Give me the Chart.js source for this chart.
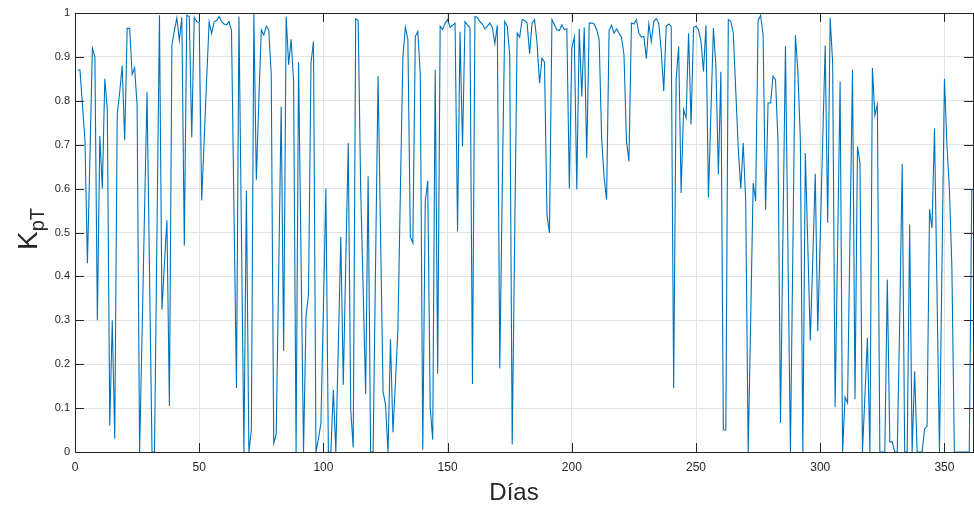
<!DOCTYPE html>
<html>
<head>
<meta charset="utf-8">
<script src="https://cdn.jsdelivr.net/npm/chart.js@4"></script>
<style>
  body { margin: 0; background: #fff; }
  #wrap { width: 974px; height: 505px; }
</style>
</head>
<body>
<div id="wrap"><canvas id="chart" width="974" height="505"></canvas></div>
<script>
// --- Data ---
// KpT per day, days 1..361
const kptValues = [
  0.87, 0.87, 0.79, 0.71, 0.43, 0.67, 0.92, 0.90, 0.30, 0.72,
  0.60, 0.85, 0.78, 0.06, 0.30, 0.03, 0.77, 0.82, 0.88, 0.71,
  0.965, 0.965, 0.86, 0.875, 0.79, 0, 0.27, 0.55, 0.82, 0.41,
  0, 0, 0.5, 0.995, 0.324, 0.43, 0.528, 0.105, 0.926, 0.96,
  0.989, 0.938, 0.99, 0.47, 0.995, 0.992, 0.717, 0.99, 0.981, 0.977,
  0.573, 0.71, 0.85, 0.98, 0.953, 0.98, 0.983, 0.992, 0.98, 0.975,
  0.973, 0.98, 0.96, 0.55, 0.146, 0.992, 0.5, 0, 0.595, 0,
  0.05, 0.998, 0.62, 0.8, 0.962, 0.95, 0.97, 0.962, 0.86, 0.02,
  0.04, 0.41, 0.787, 0.23, 0.992, 0.882, 0.94, 0.844, 0, 0.888,
  0.44, 0, 0.31, 0.36, 0.886, 0.935, 0, 0.03, 0.066, 0.33,
  0.60, 0, 0, 0.142, 0, 0.24, 0.49, 0.153, 0.43, 0.704,
  0.096, 0.01, 0.987, 0.983, 0.6, 0.37, 0.132, 0.628, 0, 0,
  0.43, 0.856, 0.5, 0.138, 0.108, 0, 0.257, 0.045, 0.16, 0.28,
  0.6, 0.90, 0.968, 0.94, 0.49, 0.476, 0.947, 0.958, 0.86, 0.005,
  0.57, 0.618, 0.10, 0.028, 0.871, 0.178, 0.97, 0.962, 0.977, 0.985,
  0.967, 0.972, 0.977, 0.503, 0.957, 0.696, 0.98, 0.973, 0.966, 0.155,
  0.992, 0.99, 0.98, 0.975, 0.964, 0.97, 0.977, 0.967, 0.93, 0.972,
  0.19, 0.6, 0.981, 0.97, 0.905, 0.017, 0.49, 0.954, 0.945, 0.985,
  0.983, 0.977, 0.907, 0.977, 0.985, 0.932, 0.84, 0.897, 0.888, 0.54,
  0.499, 0.985, 0.973, 0.962, 0.96, 0.973, 0.962, 0.964, 0.60, 0.92,
  0.945, 0.598, 0.964, 0.81, 0.967, 0.67, 0.977, 0.977, 0.975, 0.962,
  0.94, 0.715, 0.624, 0.575, 0.96, 0.972, 0.954, 0.964, 0.954, 0.945,
  0.905, 0.708, 0.662, 0.977, 0.975, 0.985, 0.954, 0.945, 0.947, 0.896,
  0.975, 0.935, 0.981, 0.987, 0.977, 0.913, 0.822, 0.97, 0.975, 0.97,
  0.146, 0.848, 0.924, 0.59, 0.78, 0.761, 0.954, 0.746, 0.967, 0.97,
  0.962, 0.935, 0.867, 0.972, 0.58, 0.775, 0.966, 0.879, 0.632, 0.866,
  0.05, 0.05, 0.985, 0.981, 0.954, 0.822, 0.692, 0.60, 0.704, 0.571,
  0, 0.3, 0.613, 0.572, 0.983, 0.995, 0.95, 0.552, 0.795, 0.795,
  0.856, 0.848, 0.708, 0.066, 0.5, 0.924, 0.46, 0, 0.47, 0.949,
  0.867, 0.711, 0, 0.681, 0.47, 0.254, 0.44, 0.634, 0.275, 0.49,
  0.71, 0.926, 0.522, 0.989, 0.886, 0.102, 0.47, 0.844, 0, 0.125,
  0.112, 0.5, 0.871, 0.12, 0.696, 0.658, 0, 0.13, 0.26, 0,
  0.875, 0.767, 0.791, 0, 0, 0, 0.393, 0.023, 0.023, 0,
  0, 0.3, 0.656, 0, 0, 0.518, 0, 0.184, 0, 0,
  0, 0.053, 0.058, 0.553, 0.51, 0.737, 0.37, 0, 0.42, 0.85,
  0.7, 0.6, 0.42, 0, 0, 0, 0, 0, 0, 0,
  0.598
];
const firstDay = 1;
const xTicks = [0, 50, 100, 150, 200, 250, 300, 350];
const yTicks = [0, 0.1, 0.2, 0.3, 0.4, 0.5, 0.6, 0.7, 0.8, 0.9, 1];
const xMax = 361.5;

const points = kptValues.map((v, i) => ({ x: firstDay + i, y: v }));

const axisColor = '#262626';
const fontFamily = '"Liberation Sans", Arial, Helvetica, sans-serif';

// --- MATLAB style box, inward ticks and axis titles ---
const matlabAxes = {
    id: 'matlabAxes',
    afterDraw(chart) {
        const { ctx, chartArea: a, scales } = chart;
        ctx.save();
        ctx.strokeStyle = axisColor;
        ctx.lineWidth = 1;
        ctx.beginPath();
        xTicks.forEach(t => {
            const px = Math.round(scales.x.getPixelForValue(t)) + 0.5;
            ctx.moveTo(px, a.bottom); ctx.lineTo(px, a.bottom - 9);
            ctx.moveTo(px, a.top); ctx.lineTo(px, a.top + 9);
        });
        yTicks.forEach(t => {
            const py = Math.round(scales.y.getPixelForValue(t)) + 0.5;
            ctx.moveTo(a.left, py); ctx.lineTo(a.left + 9, py);
            ctx.moveTo(a.right, py); ctx.lineTo(a.right - 9, py);
        });
        ctx.stroke();
        ctx.strokeRect(Math.round(a.left) + 0.5, Math.round(a.top) + 0.5,
            Math.round(a.right - a.left), Math.round(a.bottom - a.top));

        // x title
        ctx.fillStyle = axisColor;
        ctx.font = '24px ' + fontFamily;
        ctx.textAlign = 'center';
        ctx.textBaseline = 'alphabetic';
        ctx.fillText('Días', 514, 500);

        // y title K_pT
        ctx.translate(37, 229);
        ctx.rotate(-Math.PI / 2);
        ctx.textAlign = 'left';
        ctx.font = '28px ' + fontFamily;
        const wK = ctx.measureText('K').width;
        ctx.font = '20px ' + fontFamily;
        const wS = ctx.measureText('pT').width;
        const x0 = -(wK + wS) / 2;
        ctx.font = '28px ' + fontFamily;
        ctx.fillText('K', x0, 0);
        ctx.font = '20px ' + fontFamily;
        ctx.fillText('pT', x0 + wK, 7);
        ctx.restore();
    }
};

const ctx = document.getElementById('chart').getContext('2d');
new Chart(ctx, {
    type: 'line',
    data: {
        datasets: [{
            data: points,
            borderColor: '#0072BD',
            borderWidth: 1.1,
            pointRadius: 0,
            tension: 0,
            fill: false
        }]
    },
    options: {
        responsive: false,
        animation: false,
        layout: { padding: { top: 13, right: 1, left: 0, bottom: 0 } },
        plugins: { legend: { display: false }, tooltip: { enabled: false } },
        scales: {
            x: {
                type: 'linear',
                min: 0,
                max: xMax,
                afterFit: s => { s.height = 53; },
                afterBuildTicks: s => { s.ticks = xTicks.map(v => ({ value: v })); },
                grid: { color: '#e3e3e3', drawTicks: false, lineWidth: 1 },
                border: { display: false },
                ticks: {
                    color: axisColor,
                    font: { family: fontFamily, size: 12 },
                    padding: 8,
                    maxRotation: 0
                }
            },
            y: {
                min: 0,
                max: 1,
                afterFit: s => { s.width = 75; },
                afterBuildTicks: s => { s.ticks = yTicks.map(v => ({ value: v })); },
                grid: { color: '#e3e3e3', drawTicks: false, lineWidth: 1 },
                border: { display: false },
                ticks: {
                    color: axisColor,
                    font: { family: fontFamily, size: 11 },
                    padding: 5,
                    callback: v => (v === 0 || v === 1) ? String(v) : v.toFixed(1)
                }
            }
        }
    },
    plugins: [matlabAxes]
});
</script>
</body>
</html>
